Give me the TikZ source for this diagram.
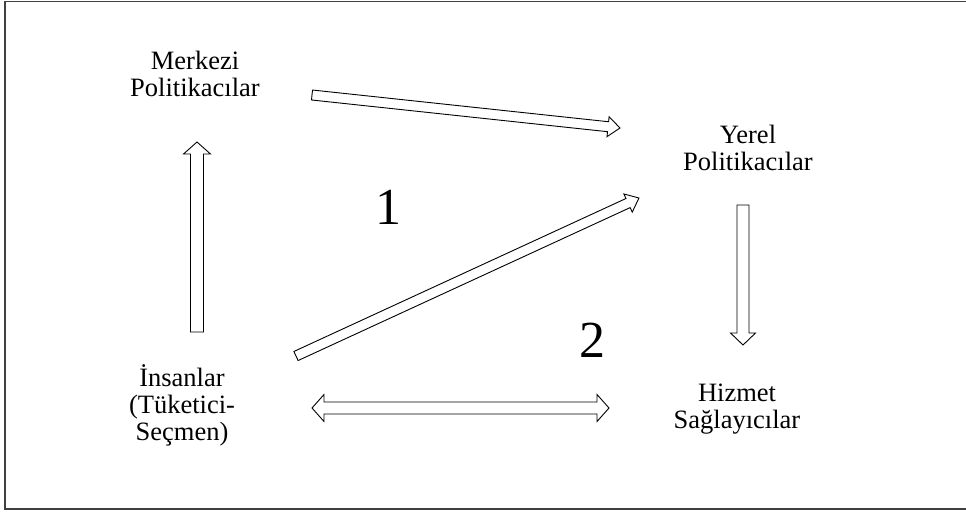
\documentclass[tikz,border=0pt]{standalone}
\usepackage{fontspec}
\setmainfont{Liberation Serif}
\usetikzlibrary{calc}

% Blok ok: #1 kuyruk, #2 uc, #3 govde yari genisligi, #4 bas yari genisligi
\newcommand{\blokok}[4]{%
  \draw[ok] let \p1=($(#2)-(#1)$), \n1={atan2(\y1,\x1)}, \n2={veclen(\x1,\y1)} in
    [shift={(#1)}, rotate=\n1]
    (0,-#3) -- (\n2-12,-#3) -- (\n2-12,-#4) -- (\n2,0) -- (\n2-12,#4) -- (\n2-12,#3) -- (0,#3) -- cycle;}
% Cift yonlu blok ok
\newcommand{\ciftok}[4]{%
  \draw[ok] let \p1=($(#2)-(#1)$), \n1={atan2(\y1,\x1)}, \n2={veclen(\x1,\y1)} in
    [shift={(#1)}, rotate=\n1]
    (0,0) -- (12,-#4) -- (12,-#3) -- (\n2-12,-#3) -- (\n2-12,-#4) -- (\n2,0)
    -- (\n2-12,#4) -- (\n2-12,#3) -- (12,#3) -- (12,#4) -- cycle;}

\begin{document}
\begin{tikzpicture}[
        x=1pt, y=-1pt,
        % 1. STILLER
        etiket/.style={align=center, font=\fontsize{26.5}{27}\selectfont, inner sep=0pt},
        rakam/.style={font=\fontsize{52}{52}\selectfont, inner sep=0pt},
        ok/.style={draw=black, line width=0.9pt, fill=white, line join=miter},
        cerceve/.style={draw=black!75, line width=1.2pt}
    ]
        \useasboundingbox (0,0) rectangle (966,512);
        \draw[cerceve] (966,1.5) -- (5,1.5) -- (5,509) -- (966,509);

        % 2. DUGUMLER
        \node[etiket] (merkezi) at (195,74) {Merkezi\\Politikacılar};
        \node[etiket] (yerel) at (748,148) {Yerel\\Politikacılar};
        \node[etiket] (insan) at (182,405) {İnsanlar\\(Tüketici-\\Seçmen)};
        \node[etiket] (hizmet) at (737,409) {Hizmet\\Sağlayıcılar};
        \node[rakam] (bir) at (388,207) {1};
        \node[rakam] (iki) at (592,340) {2};

        % ok uclari
        \coordinate (merkezi-k) at (312,95);
        \coordinate (yerel-u1) at (620,128);
        \coordinate (insan-k1) at (296,356);
        \coordinate (yerel-u2) at (639,198);
        \coordinate (insan-k2) at (197,332);
        \coordinate (merkezi-u) at (197,142);
        \coordinate (yerel-k) at (743,205);
        \coordinate (hizmet-u) at (743,345);
        \coordinate (insan-s) at (312,408);
        \coordinate (hizmet-s) at (609,408);

        % 3. OKLAR
        \blokok{merkezi-k}{yerel-u1}{5}{10}
        \blokok{insan-k1}{yerel-u2}{5}{10}
        \blokok{insan-k2}{merkezi-u}{6.5}{13.5}
        \blokok{yerel-k}{hizmet-u}{6}{12.5}
        \ciftok{insan-s}{hizmet-s}{6}{13.5}

    \end{tikzpicture}
\end{document}
